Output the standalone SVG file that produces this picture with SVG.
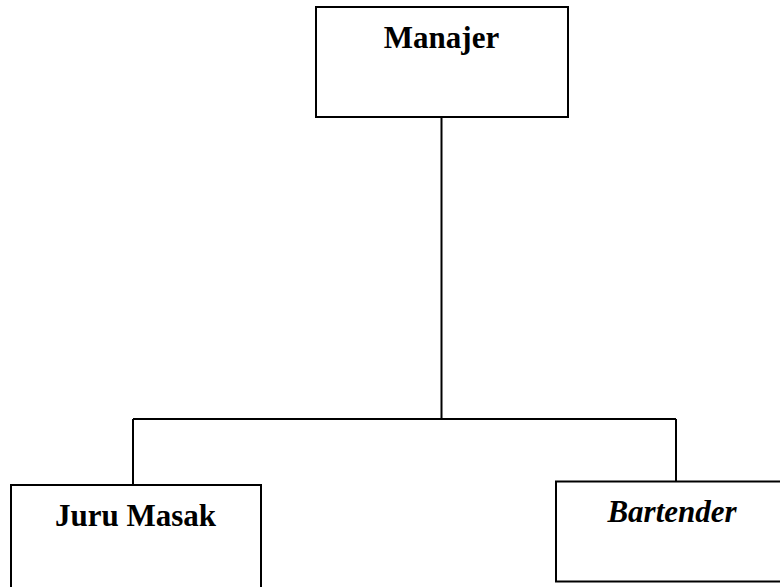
<svg xmlns="http://www.w3.org/2000/svg" width="780" height="587" viewBox="0 0 780 587">
<style>
.box{fill:#fff;stroke:#000;stroke-width:2}
.conn{fill:none;stroke:#000;stroke-width:2}
.t{font-family:"Liberation Serif","Times New Roman",serif;font-weight:bold;font-size:31px;text-anchor:middle;fill:#000}
.i{font-style:italic}
</style>
<rect width="780" height="587" fill="#fff"/>
<g id="connectors">
<path class="conn" d="M441.5 117 V419 M133 419 H676 M133 419 V485 M676 419 V481.5"/>
</g>
<g id="manajer">
<rect class="box" x="316" y="7" width="252" height="110"/>
<text class="t" x="441.5" y="48">Manajer</text>
</g>
<g id="juru-masak">
<rect class="box" x="11" y="485" width="250" height="110"/>
<text class="t" x="135.5" y="526">Juru Masak</text>
</g>
<g id="bartender">
<rect class="box" x="556" y="481.5" width="230" height="100"/>
<text class="t i" x="672" y="522">Bartender</text>
</g>
</svg>
